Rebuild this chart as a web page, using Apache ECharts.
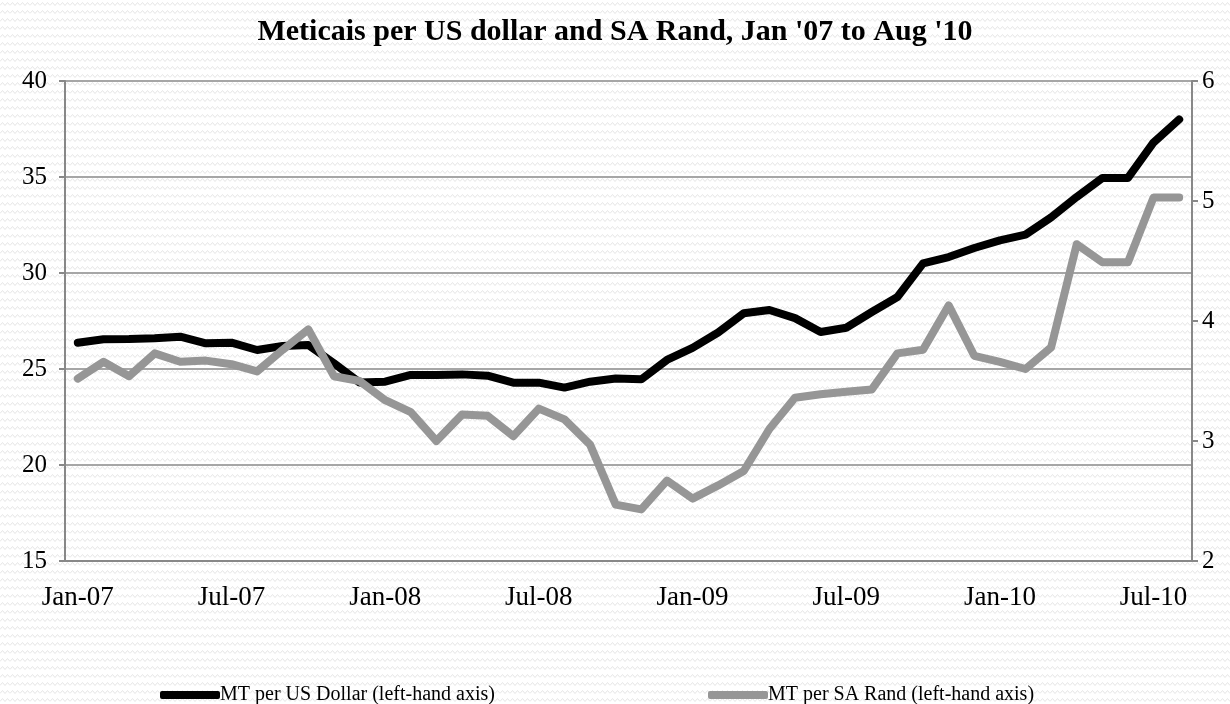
<!DOCTYPE html>
<html><head><meta charset="utf-8">
<script src="https://cdn.jsdelivr.net/npm/echarts@6/dist/echarts.min.js"></script>
<style>html,body{margin:0;padding:0;background:#fff}#c{width:1230px;height:704px}</style>
</head><body><div id="c"></div>
<script>
const categories = [
 'Jan-07','Feb-07','Mar-07','Apr-07','May-07','Jun-07','Jul-07','Aug-07','Sep-07','Oct-07','Nov-07','Dec-07',
 'Jan-08','Feb-08','Mar-08','Apr-08','May-08','Jun-08','Jul-08','Aug-08','Sep-08','Oct-08','Nov-08','Dec-08',
 'Jan-09','Feb-09','Mar-09','Apr-09','May-09','Jun-09','Jul-09','Aug-09','Sep-09','Oct-09','Nov-09','Dec-09',
 'Jan-10','Feb-10','Mar-10','Apr-10','May-10','Jun-10','Jul-10','Aug-10'];
const usdValues = [
 26.37,26.55,26.56,26.60,26.68,26.34,26.37,25.99,26.20,26.25,25.30,24.30,
 24.34,24.69,24.69,24.72,24.65,24.29,24.29,24.03,24.34,24.51,24.46,25.47,
 26.10,26.90,27.90,28.07,27.65,26.93,27.15,27.97,28.75,30.50,30.83,31.30,
 31.70,32.00,32.90,33.96,34.95,34.95,36.80,38.00];
const randValues = [
 3.52,3.66,3.54,3.73,3.66,3.67,3.64,3.58,3.76,3.93,3.54,3.50,
 3.34,3.24,3.00,3.22,3.21,3.04,3.27,3.18,2.97,2.47,2.43,2.67,
 2.52,2.63,2.75,3.10,3.36,3.39,3.41,3.43,3.73,3.76,4.13,3.71,
 3.66,3.60,3.78,4.64,4.49,4.49,5.03,5.03];
const seriesNames = ['MT per US Dollar (left-hand axis)','MT per SA Rand (left-hand axis)'];
const titleText = "Meticais per US dollar and SA Rand, Jan '07 to Aug '10";

// background hatch pattern
const pc = document.createElement('canvas');
pc.width = 10; pc.height = 8;
const g = pc.getContext('2d');
g.fillStyle = '#ffffff'; g.fillRect(0,0,10,8);
g.strokeStyle = '#e6e6e6'; g.lineWidth = 1;
g.beginPath(); g.moveTo(0,5.5); g.lineTo(2.5,2.5); g.lineTo(5,5.5); g.lineTo(7.5,2.5); g.lineTo(10,5.5); g.stroke();

const serif = '"Liberation Serif", "DejaVu Serif", serif';
const chart = echarts.init(document.getElementById('c'), null, {renderer:'canvas'});
chart.setOption({
  animation: false,
  backgroundColor: '#ffffff',
  graphic: [{type:'rect', z:-100, silent:true, shape:{x:0,y:0,width:1230,height:704}, style:{fill:{image:pc, repeat:'repeat'}}}],
  title: {text: titleText, left: 'center', top: 12,
    textStyle:{fontFamily: serif, fontWeight:'bold', fontSize:30, color:'#000'}},
  grid: {left: 65, right: 38, top: 81, bottom: 143, containLabel: false},
  legend: [
    {data:[seriesNames[0]], left:155, top:680, itemWidth:60, itemHeight:8, icon:'roundRect', itemGap:0,
      textStyle:{fontFamily:serif, fontSize:20, color:'#000', padding:[0,0,0,-5]}},
    {data:[seriesNames[1]], left:703, top:680, itemWidth:60, itemHeight:8, icon:'roundRect', itemGap:0,
      textStyle:{fontFamily:serif, fontSize:20, color:'#000', padding:[0,0,0,-5]}}
  ],
  xAxis: {type:'category', data: categories, boundaryGap: true,
    axisLine:{lineStyle:{color:'#888', width:2}},
    axisTick:{interval:5, length:7, lineStyle:{color:'#888', width:2}},
    axisLabel:{interval:5, margin:23, fontFamily:serif, fontSize:27, color:'#000'}},
  yAxis: [
    {type:'value', min:15, max:40, interval:5, position:'left',
      axisLine:{show:true, lineStyle:{color:'#888', width:2}},
      axisTick:{show:true, length:6, lineStyle:{color:'#888', width:2}},
      splitLine:{show:true, lineStyle:{color:'#888', width:1.5}},
      axisLabel:{margin:18, fontFamily:serif, fontSize:25, color:'#000'}},
    {type:'value', min:2, max:6, interval:1, position:'right',
      axisLine:{show:true, lineStyle:{color:'#888', width:2}},
      axisTick:{show:true, length:6, lineStyle:{color:'#888', width:2}},
      splitLine:{show:false},
      axisLabel:{margin:10, fontFamily:serif, fontSize:25, color:'#000'}}
  ],
  series: [
    {name: seriesNames[0], type:'line', yAxisIndex:0, data: usdValues, symbol:'none', z:3,
      color:'#000000', lineStyle:{color:'#000000', width:8, cap:'round', join:'round'}},
    {name: seriesNames[1], type:'line', yAxisIndex:1, data: randValues, symbol:'none', z:4,
      color:'#969696', lineStyle:{color:'#969696', width:8, cap:'round', join:'round'}}
  ]
});
</script></body></html>
